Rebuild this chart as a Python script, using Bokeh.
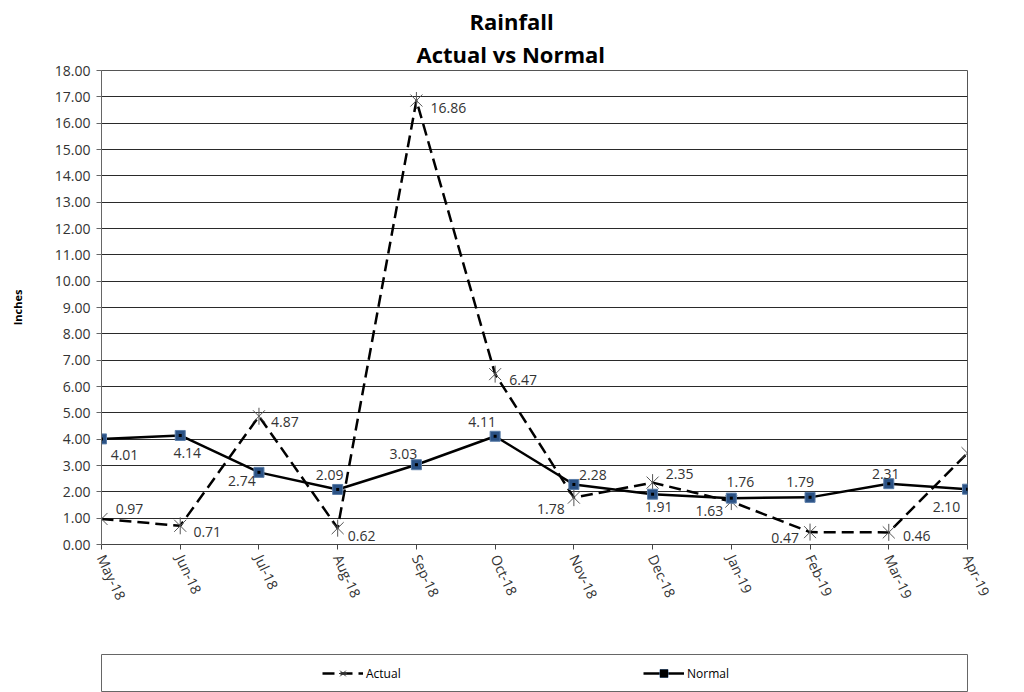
import math
from bokeh.plotting import figure
from bokeh.layouts import column
from bokeh.models import (ColumnDataSource, Range1d, FixedTicker, NumeralTickFormatter,
                          Legend, LegendItem, Title)
from bokeh.core.properties import value
from bokeh.embed import file_html
from bokeh.resources import INLINE

# ---------------- data ----------------
months = ["May-18", "Jun-18", "Jul-18", "Aug-18", "Sep-18", "Oct-18",
          "Nov-18", "Dec-18", "Jan-19", "Feb-19", "Mar-19", "Apr-19"]
actual = [0.97, 0.71, 4.87, 0.62, 16.86, 6.47, 1.78, 2.35, 1.63, 0.47, 0.46, 3.47]
normal = [4.01, 4.14, 2.74, 2.09, 3.03, 4.11, 2.28, 1.91, 1.76, 1.79, 2.31, 2.10]
y_ticks = list(range(0, 19))
series_names = ["Actual", "Normal"]
title_lines = ["Rainfall", "Actual vs Normal"]

# ---------------- label placement (screen px offsets of label centres) ----------------
actual_dx = [28, 27, 26, 24, 32, 28, -23, 27, -22, -25, 28, 26]
actual_dy = [-10, 6, 6, 8, 7, 6, 11, -9, 9, 6, 4, 3]
normal_dx = [23, 7, -17, -8, -13, -13, 19, 6, 9, -10, -3, -21]
normal_dy = [16, 18, 9, -14, -11, -14, -9, 13, -16, -15, -10, 18]

FONT = "Open Sans"
TXT = "#333333"
STAR = "#555555"
SQ_FILL = "#2B5285"
SQ_LINE = "#5A7DA8"

xs = list(range(len(months)))
src = ColumnDataSource(dict(
    x=xs, actual=actual, normal=normal,
    actual_lbl=[f"{v:.2f}" for v in actual],
    normal_lbl=[f"{v:.2f}" for v in normal],
    adx=actual_dx, ady=actual_dy, ndx=normal_dx, ndy=normal_dy,
))

p = figure(width=1024, height=652, x_range=Range1d(0, len(months) - 1), y_range=Range1d(0, 18),
           output_backend="svg", toolbar_location=None, title=None,
           min_border_left=101, min_border_right=45, min_border_top=70, min_border_bottom=108)

# title: two lines (bottom line added first), left-aligned with offsets to centre near x=511
for txt, so, off in [(title_lines[1], 3, 315), (title_lines[0], 0, 368)]:
    p.add_layout(Title(text=txt, align="left", offset=off, text_font=FONT,
                       text_font_size="22px", text_font_style="bold", text_color="black",
                       standoff=so), "above")

p.outline_line_color = "#555555"
p.background_fill_color = "white"
p.border_fill_color = "white"

# y axis
p.yaxis.ticker = FixedTicker(ticks=y_ticks)
p.yaxis.formatter = NumeralTickFormatter(format="0.00")
p.yaxis.axis_label = "Inches"
p.yaxis.axis_label_text_font = FONT
p.yaxis.axis_label_text_font_size = "11px"
p.yaxis.axis_label_text_font_style = "bold"
p.yaxis.axis_label_text_color = "black"
p.yaxis.axis_label_standoff = 27
p.yaxis.major_label_text_font = FONT
p.yaxis.major_label_text_font_size = "14px"
p.yaxis.major_label_text_color = TXT
p.yaxis.major_tick_out = 5
p.yaxis.major_tick_in = 0
p.yaxis.minor_tick_out = 0
p.yaxis.minor_tick_in = 0
p.yaxis.axis_line_color = "#666666"
p.yaxis.major_tick_line_color = "#666666"
p.yaxis.major_label_standoff = 6

# x axis
p.xaxis.ticker = FixedTicker(ticks=xs)
p.xaxis.major_label_overrides = {i: m for i, m in enumerate(months)}
p.xaxis.major_label_orientation = -math.radians(65)
p.xaxis.major_label_text_font = FONT
p.xaxis.major_label_text_font_size = "14px"
p.xaxis.major_label_text_color = TXT
p.xaxis.major_tick_out = 5
p.xaxis.major_tick_in = 0
p.xaxis.minor_tick_out = 0
p.xaxis.minor_tick_in = 0
p.xaxis.axis_line_color = "#444444"
p.xaxis.major_tick_line_color = "#444444"
p.xaxis.major_label_standoff = 6

p.xgrid.visible = False
p.ygrid.ticker = FixedTicker(ticks=y_ticks)
p.ygrid.grid_line_color = "#2a2a2a"
p.ygrid.grid_line_width = 1

# series
p.line("x", "actual", source=src, line_color="black", line_width=2.5, line_dash="12 6")
p.line("x", "normal", source=src, line_color="black", line_width=2.5)
p.scatter("x", "actual", source=src, marker="x", size=17, line_color=STAR, line_width=1)
p.scatter("x", "actual", source=src, marker="dash", size=17, angle=math.pi / 2,
          line_color=STAR, line_width=1)
p.scatter("x", "normal", source=src, marker="square", size=10, fill_color=SQ_FILL, line_color=SQ_LINE)
p.scatter("x", "normal", source=src, marker="square", size=3, fill_color="black", line_color=None)

# data labels
p.text("x", "actual", text="actual_lbl", source=src, x_offset="adx", y_offset="ady",
       text_align="center", text_baseline="middle", text_font=value(FONT),
       text_font_size="14px", text_color=TXT)
p.text("x", "normal", text="normal_lbl", source=src, x_offset="ndx", y_offset="ndy",
       text_align="center", text_baseline="middle", text_font=value(FONT),
       text_font_size="14px", text_color=TXT)

# ---------------- legend panel ----------------
# the series are drawn here outside the visible y range; only their legend glyphs show
p2 = figure(width=1024, height=40, x_range=Range1d(0, 1), y_range=Range1d(-2, -1),
            output_backend="svg", toolbar_location=None, x_axis_type=None, y_axis_type=None,
            min_border_left=86, min_border_right=57, min_border_top=2, min_border_bottom=1)
p2.outline_line_color = "#666666"
p2.grid.visible = False

la = p2.line(xs, actual, line_color="black", line_width=2.5, line_dash="12 6")
sa1 = p2.scatter(xs, actual, marker="x", size=13, line_color="#333333", line_width=1)
sa2 = p2.scatter(xs, actual, marker="dash", size=13, angle=math.pi / 2, line_color="#333333", line_width=1)
ln = p2.line(xs, normal, line_color="black", line_width=2.5)
sn = p2.scatter(xs, normal, marker="square", size=10, fill_color=SQ_FILL, line_color=SQ_LINE)
sd = p2.scatter(xs, normal, marker="square", size=3, fill_color="black", line_color=None)

legend_x = [221, 542]
for name, rends, lx in zip(series_names, [[la, sa1, sa2], [ln, sn, sd]], legend_x):
    lg = Legend(items=[LegendItem(label=name, renderers=rends)], location=(lx, 8),
                glyph_width=41, glyph_height=20, label_height=20, label_standoff=3,
                padding=0, margin=0, border_line_color=None, background_fill_alpha=0,
                label_text_font=FONT, label_text_font_size="12px", label_text_color="black")
    p2.add_layout(lg, "center")

layout = column(p, p2, spacing=0)
open("out.html", "w").write(file_html(layout, INLINE))
